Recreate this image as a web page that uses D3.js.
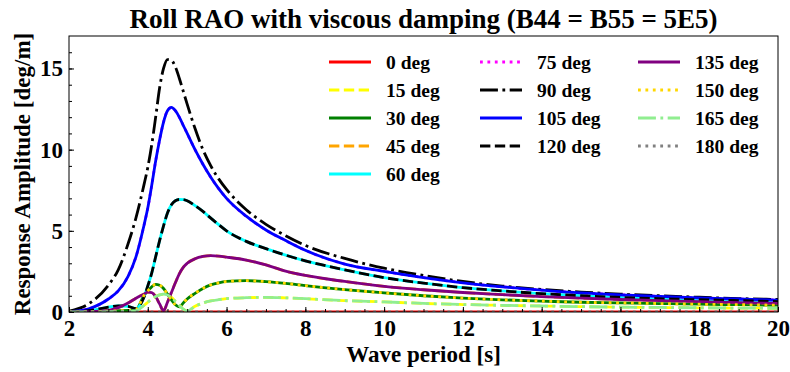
<!DOCTYPE html>
<html>
<head>
<meta charset="utf-8">
<script src="https://cdn.jsdelivr.net/npm/d3@7"></script>
<style>
  body { margin: 0; background: #fff; }
  text { font-family: "Liberation Serif", "Times New Roman", serif; font-weight: bold; }
</style>
</head>
<body>
<svg id="chart"></svg>
<script>
// wave periods [s]
var periods = [2, 2.5, 3, 3.25, 3.5, 3.7, 3.9, 4.0, 4.1, 4.2, 4.3, 4.4, 4.5, 4.6, 4.7, 4.8, 4.9, 5.0,
  5.2, 5.4, 5.6, 5.8, 6.0, 6.5, 7, 7.5, 8, 9, 10, 11, 12, 13, 14, 15, 16, 17, 18, 19, 20];

// roll RAO [deg/m] per heading
var rao0 = [0, 0, 0, 0, 0, 0, 0, 0, 0, 0, 0, 0, 0, 0, 0, 0, 0, 0,
  0, 0, 0, 0, 0, 0, 0, 0, 0, 0, 0, 0, 0, 0, 0, 0, 0, 0, 0, 0, 0];
var rao15 = [0, 0, 0.02, 0.03, 0.05, 0.08, 0.4, 0.6, 0.8, 0.95, 1.05, 1.1, 1.05, 0.9, 0.65, 0.4, 0.18, 0.06,
  0.35, 0.55, 0.68, 0.76, 0.82, 0.88, 0.9, 0.87, 0.82, 0.7, 0.62, 0.53, 0.46, 0.41, 0.37, 0.33, 0.3, 0.28, 0.26, 0.24, 0.23];
var rao30 = [0, 0.02, 0.05, 0.08, 0.1, 0.15, 1.0, 1.3, 1.55, 1.7, 1.65, 1.45, 1.1, 0.75, 0.45, 0.32, 0.55, 0.8,
  1.15, 1.45, 1.67, 1.8, 1.88, 1.93, 1.87, 1.76, 1.62, 1.38, 1.18, 1.0, 0.86, 0.75, 0.67, 0.6, 0.56, 0.52, 0.48, 0.45, 0.42];
var rao60 = [0, 0.08, 0.3, 0.38, 0.35, 0.2, 0.9, 1.6, 2.4, 3.4, 4.4, 5.3, 6.1, 6.6, 6.85, 6.93, 6.92, 6.85,
  6.55, 6.2, 5.78, 5.38, 5.0, 4.35, 3.9, 3.5, 3.15, 2.6, 2.12, 1.78, 1.5, 1.3, 1.13, 1.0, 0.9, 0.82, 0.76, 0.7, 0.64];
var rao90 = [0.05, 0.5, 1.65, 2.6, 4.2, 5.8, 7.8, 8.9, 10.3, 12.0, 13.8, 15.0, 15.55, 15.5, 15.1, 14.4, 13.6, 12.8,
  11.3, 10.0, 9.0, 8.2, 7.55, 6.3, 5.4, 4.7, 4.1, 3.3, 2.7, 2.25, 1.88, 1.6, 1.39, 1.23, 1.1, 1.0, 0.91, 0.83, 0.77];
var rao105 = [0.02, 0.2, 0.8, 1.3, 2.2, 3.4, 5.3, 6.4, 7.8, 9.3, 10.6, 11.7, 12.4, 12.6, 12.4, 12.0, 11.5, 11.0,
  10.0, 9.1, 8.3, 7.6, 7.0, 5.9, 5.05, 4.4, 3.8, 2.95, 2.5, 2.12, 1.8, 1.55, 1.35, 1.18, 1.06, 0.96, 0.87, 0.8, 0.73];
var rao135 = [0, 0.02, 0.1, 0.27, 0.55, 0.85, 1.1, 1.22, 1.2, 0.95, 0.5, 0.08, 0.6, 1.2, 1.8, 2.35, 2.75, 3.0,
  3.28, 3.42, 3.47, 3.44, 3.38, 3.2, 2.9, 2.52, 2.25, 1.88, 1.58, 1.37, 1.2, 1.07, 0.95, 0.85, 0.77, 0.7, 0.64, 0.58, 0.53];
// symmetric headings give the same roll response
var rao45 = rao135, rao75 = rao105, rao120 = rao60, rao150 = rao30, rao165 = rao15, rao180 = rao0;

var headings = ['0 deg', '15 deg', '30 deg', '45 deg', '60 deg', '75 deg', '90 deg',
  '105 deg', '120 deg', '135 deg', '150 deg', '165 deg', '180 deg'];
var seriesValues = [rao0, rao15, rao30, rao45, rao60, rao75, rao90, rao105, rao120, rao135, rao150, rao165, rao180];
var xTicks = [2, 4, 6, 8, 10, 12, 14, 16, 18, 20];
var yTicks = [0, 5, 10, 15];

var lw = 2.8;
var styles = [
  { color: '#ff0000', dash: null },
  { color: '#ffff00', dash: [3.7, 1.6] },
  { color: '#008000', dash: null },
  { color: '#ffa500', dash: [3.7, 1.6] },
  { color: '#00ffff', dash: null },
  { color: '#ff00ff', dash: [1, 1.65] },
  { color: '#000000', dash: [6.4, 1.6, 1, 1.6] },
  { color: '#0000ff', dash: null },
  { color: '#000000', dash: [3.7, 1.6] },
  { color: '#800080', dash: null },
  { color: '#ffd700', dash: [1, 1.65] },
  { color: '#90ee90', dash: [6.4, 1.6, 1, 1.6] },
  { color: '#808080', dash: [1, 1.65] }
];
function dashArr(d) { return d ? d.map(function (v) { return v * lw; }).join(',') : null; }

var width = 790, height = 372;
var plotL = 69, plotR = 778, plotT = 36, plotB = 312;

var svg = d3.select('#chart').attr('width', width).attr('height', height);

var x = d3.scaleLinear().domain([2, 20]).range([plotL, plotR]);
var y = d3.scaleLinear().domain([0, 17]).range([plotB, plotT]);

svg.append('defs').append('clipPath').attr('id', 'clip')
  .append('rect').attr('x', plotL).attr('y', plotT).attr('width', plotR - plotL).attr('height', plotB - plotT);

var line = d3.line()
  .x(function (d) { return x(d[0]); })
  .y(function (d) { return y(d[1]); })
  .curve(d3.curveMonotoneX);

svg.append('g')
  .attr('clip-path', 'url(#clip)')
  .selectAll('path')
  .data(seriesValues)
  .enter()
  .append('path')
  .attr('d', function (vals) { return line(periods.map(function (p, i) { return [p, vals[i]]; })); })
  .attr('fill', 'none')
  .attr('stroke', function (d, i) { return styles[i].color; })
  .attr('stroke-width', lw)
  .attr('stroke-dasharray', function (d, i) { return dashArr(styles[i].dash); });

// axes, ticks pointing inward
var gx = svg.append('g').attr('transform', 'translate(0,' + plotB + ')')
  .call(d3.axisBottom(x).tickValues(xTicks).tickFormat(d3.format('d')).tickSize(-5).tickPadding(8));
svg.append('g').attr('transform', 'translate(0,' + plotB + ')')
  .call(d3.axisBottom(x).tickValues(d3.range(2, 20.01, 0.5)).tickFormat('').tickSize(-3));
var gy = svg.append('g').attr('transform', 'translate(' + plotL + ',0)')
  .call(d3.axisLeft(y).tickValues(yTicks).tickSize(-5).tickPadding(6));
svg.append('g').attr('transform', 'translate(' + plotL + ',0)')
  .call(d3.axisLeft(y).tickValues(d3.range(0, 17, 1)).tickFormat('').tickSize(-3));

svg.selectAll('.domain').remove();
svg.selectAll('.tick line').attr('stroke', '#000').attr('stroke-width', 1);
gx.selectAll('text').attr('font-size', 23).attr('fill', '#000').style('font-family', '"Liberation Serif", serif');
gy.selectAll('text').attr('font-size', 23).attr('fill', '#000').style('font-family', '"Liberation Serif", serif');

svg.append('rect')
  .attr('x', plotL).attr('y', plotT).attr('width', plotR - plotL).attr('height', plotB - plotT)
  .attr('fill', 'none').attr('stroke', '#000').attr('stroke-width', 1);

// labels
svg.append('text').attr('x', (plotL + plotR) / 2).attr('y', 28)
  .attr('text-anchor', 'middle').attr('font-size', 27)
  .text('Roll RAO with viscous damping (B44 = B55 = 5E5)');
svg.append('text').attr('x', (plotL + plotR) / 2).attr('y', 362)
  .attr('text-anchor', 'middle').attr('font-size', 23)
  .text('Wave period [s]');
svg.append('text')
  .attr('transform', 'translate(30,' + (plotT + plotB) / 2 + ') rotate(-90)')
  .attr('text-anchor', 'middle').attr('font-size', 23)
  .text('Response Amplitude [deg/m]');

// legend: 3 columns
var colX = [329, 480, 638];
var rowY0 = 62, rowGap = 28;
var legend = svg.append('g')
  .selectAll('g')
  .data(headings)
  .enter()
  .append('g')
  .attr('transform', function (d, i) {
    var c = i < 5 ? 0 : (i < 9 ? 1 : 2);
    var r = i < 5 ? i : (i < 9 ? i - 5 : i - 9);
    return 'translate(' + colX[c] + ',' + (rowY0 + r * rowGap) + ')';
  });
legend.append('line')
  .attr('x1', 0).attr('x2', 42).attr('y1', 0).attr('y2', 0)
  .attr('stroke', function (d, i) { return styles[i].color; })
  .attr('stroke-width', lw)
  .attr('stroke-dasharray', function (d, i) { return dashArr(styles[i].dash); });
legend.append('text')
  .attr('x', 57).attr('dy', '0.35em').attr('font-size', 19.5)
  .text(function (d) { return d; });
</script>
</body>
</html>
